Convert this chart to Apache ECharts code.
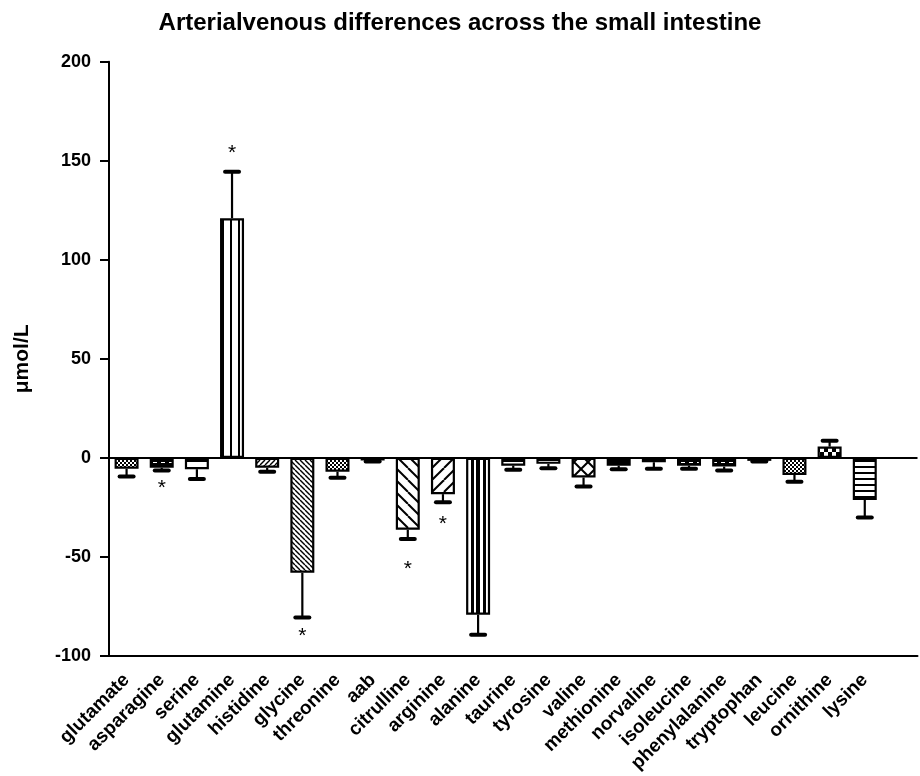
<!DOCTYPE html>
<html>
<head>
<meta charset="utf-8">
<script src="https://cdn.jsdelivr.net/npm/echarts@6/dist/echarts.min.js"></script>
<style>html,body{margin:0;padding:0;background:#fff;}#chart{width:920px;height:776px;}</style>
</head>
<body>
<div id="chart"></div>
<script>
var titleText = 'Arterialvenous differences across the small intestine';
var yAxisName = '\u03bcmol/L';
var categories = ['glutamate','asparagine','serine','glutamine','histidine','glycine','threonine','aab','citrulline','arginine','alanine','taurine','tyrosine','valine','methionine','norvaline','isoleucine','phenylalanine','tryptophan','leucine','ornithine','lysine',''];
var means = [-5.5, -5, -5.7, 121, -5, -58, -7, -1.3, -36.3, -18.3, -79.2, -3.9, -3, -9.9, -3.9, -2.2, -3.9, -4.4, -1.5, -8.6, 5.7, -21.2];
var errors = [3.9, 1.4, 4.9, 23.5, 2, 22.6, 3, 0.5, 4.7, 4.1, 10.1, 2.1, 2.2, 4.6, 1.8, 3.3, 1.6, 2, 0.3, 3.4, 3, 8.9];
var starCategories = ['asparagine','glutamine','glycine','citrulline','arginine'];
var starValues = [-13.3, 155.7, -88, -54, -31.3];
var yTicks = [-100, -50, 0, 50, 100, 150, 200];

// fill pattern per bar (style only)
var patternNames = ['checkFine','dashBlack','hLinesWide','vLinesWide','diagFwdFine','diagBackFine','checkFine','black','diagBackWide','diagFwdWide','vStripes','hLinesWide','dashWhite','crossDiag','black','hLinesWide','dashBlack','dashBlack','black','checkFine','bigChecker','hLinesFine'];

function tile(w, h, draw) {
  var c = document.createElement('canvas');
  c.width = w; c.height = h;
  var g = c.getContext('2d');
  g.fillStyle = '#fff'; g.fillRect(0, 0, w, h);
  g.fillStyle = '#000'; g.strokeStyle = '#000';
  draw(g, w, h);
  return { image: c, repeat: 'repeat' };
}
var patternMakers = {
  checkFine: function () { return tile(4, 4, function (g) { g.fillRect(0,0,4,4); g.fillStyle='#fff'; g.fillRect(0,0,2,2); g.fillRect(2,2,2,2); }); },
  dashBlack: function () { return tile(8, 5, function (g) { g.fillRect(0,0,8,5); g.fillStyle='#fff'; g.fillRect(1,2,4,1); }); },
  dashWhite: function () { return tile(8, 6, function (g) { g.fillRect(0,3,8,2); }); },
  hLinesWide: function () { return tile(8, 7, function (g) { g.fillRect(0,5,8,2); }); },
  hLinesFine: function () { return tile(8, 6, function (g) { g.fillRect(0,4,8,2); }); },
  vLinesWide: function () { return tile(8, 8, function (g) { g.fillRect(6,0,2,8); }); },
  vStripes: function () { return tile(12, 8, function (g) { g.fillRect(3,0,3,8); g.fillRect(8,0,4,8); }); },
  black: function () { return tile(4, 4, function (g) { g.fillRect(0,0,4,4); }); },
  bigChecker: function () { return tile(8, 8, function (g) { g.fillRect(0,0,4,4); g.fillRect(4,4,4,4); }); },
  diagFwdFine: function () { return tile(5, 5, function (g) { g.lineWidth = 1.4; for (var k=-1;k<=1;k++){ g.beginPath(); g.moveTo(k*5, 5); g.lineTo(k*5+5, 0); g.stroke(); } }); },
  diagBackFine: function () { return tile(5, 5, function (g) { g.lineWidth = 1.4; for (var k=-1;k<=1;k++){ g.beginPath(); g.moveTo(k*5, 0); g.lineTo(k*5+5, 5); g.stroke(); } }); },
  diagFwdWide: function () { return tile(12, 12, function (g) { g.lineWidth = 2; for (var k=-1;k<=1;k++){ g.beginPath(); g.moveTo(k*12, 12); g.lineTo(k*12+12, 0); g.stroke(); } }); },
  diagBackWide: function () { return tile(12, 12, function (g) { g.lineWidth = 2; for (var k=-1;k<=1;k++){ g.beginPath(); g.moveTo(k*12, 0); g.lineTo(k*12+12, 12); g.stroke(); } }); },
  crossDiag: function () { return tile(14, 14, function (g) { g.lineWidth = 2; for (var k=-1;k<=1;k++){ g.beginPath(); g.moveTo(k*14, 0); g.lineTo(k*14+14, 14); g.stroke(); g.beginPath(); g.moveTo(k*14, 14); g.lineTo(k*14+14, 0); g.stroke(); } }); }
};

var barData = means.map(function (v, i) {
  return { value: v, itemStyle: { color: patternMakers[patternNames[i]](), borderColor: '#000', borderWidth: 2.2 } };
});
var errData = means.map(function (v, i) { return [i, v, errors[i]]; });
var starData = starCategories.map(function (c, i) { return [categories.indexOf(c), starValues[i]]; });

var fontFam = 'Liberation Sans, Arial, sans-serif';
var chart = echarts.init(document.getElementById('chart'), null, { renderer: 'canvas' });
chart.setOption({
  animation: false,
  backgroundColor: '#fff',
  title: {
    text: titleText, left: 'center', top: 6,
    textStyle: { fontFamily: fontFam, fontWeight: 'bold', fontSize: 24, color: '#000' }
  },
  grid: { left: 109, right: 2.5, top: 61.7, bottom: 120, containLabel: false, outerBoundsMode: 'none' },
  xAxis: {
    type: 'category', data: categories,
    axisLine: { onZero: false, lineStyle: { color: '#000', width: 2 } },
    axisTick: { alignWithLabel: true, interval: 0, length: 7, lineStyle: { color: '#000', width: 2 } },
    axisLabel: { interval: 0, rotate: 45, margin: 21, color: '#000', fontWeight: 'bold', fontSize: 19, fontFamily: fontFam },
    splitLine: { show: false }
  },
  yAxis: {
    type: 'value', min: yTicks[0], max: yTicks[yTicks.length - 1], interval: 50,
    name: yAxisName, nameLocation: 'middle', nameGap: 76, nameRotate: 90,
    nameTextStyle: { color: '#000', fontWeight: 'bold', fontSize: 21, fontFamily: fontFam },
    axisLine: { show: true, lineStyle: { color: '#000', width: 2 } },
    axisTick: { show: true, length: 9, lineStyle: { color: '#000', width: 2 } },
    axisLabel: { color: '#000', fontWeight: 'bold', fontSize: 18, margin: 18, fontFamily: fontFam },
    splitLine: { show: false }
  },
  series: [
    {
      type: 'bar', data: barData, barWidth: 24, z: 2,
      markLine: { silent: true, symbol: 'none', label: { show: false }, lineStyle: { color: '#000', width: 2, type: 'solid' }, data: [{ yAxis: 0 }] }
    },
    {
      type: 'custom', z: 1, data: errData,
      renderItem: function (params, api) {
        var i = api.value(0), m = api.value(1), e = api.value(2);
        var s = m >= 0 ? 1 : -1;
        var p0 = api.coord([i, m]);
        var p1 = api.coord([i, m + s * e]);
        return { type: 'group', children: [
          { type: 'line', shape: { x1: p0[0], y1: p0[1], x2: p1[0], y2: p1[1] }, style: { stroke: '#000', lineWidth: 2.2 } },
          { type: 'line', shape: { x1: p1[0] - 7, y1: p1[1], x2: p1[0] + 7, y2: p1[1] }, style: { stroke: '#000', lineWidth: 4, lineCap: 'round' } }
        ] };
      }
    },
    {
      type: 'custom', z: 3, data: starData,
      renderItem: function (params, api) {
        var p = api.coord([api.value(0), api.value(1)]);
        return { type: 'text', x: p[0], y: p[1] + 4, style: { text: '*', textAlign: 'center', textVerticalAlign: 'middle', fontSize: 21, fontFamily: fontFam, fill: '#000' } };
      }
    }
  ]
});
</script>
</body>
</html>
